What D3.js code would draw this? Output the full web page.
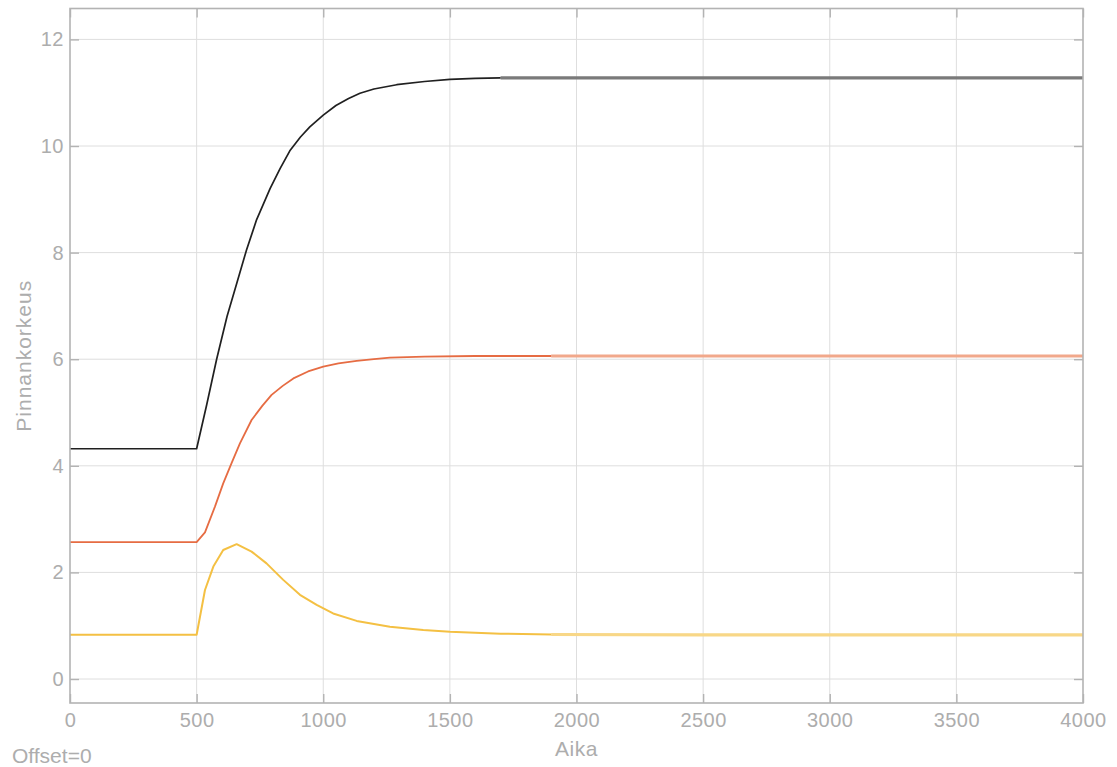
<!DOCTYPE html>
<html>
<head>
<meta charset="utf-8">
<script src="https://cdn.jsdelivr.net/npm/d3@7"></script>
<style>
  html, body { margin: 0; padding: 0; background: #ffffff; }
  svg { display: block; font-family: "Liberation Sans", Arial, sans-serif; }
</style>
</head>
<body>
<svg id="chart" width="1117" height="767"></svg>
<script>
// Time axis (Aika) and tick settings
const xTicks = [0, 500, 1000, 1500, 2000, 2500, 3000, 3500, 4000];
const yTicks = [0, 2, 4, 6, 8, 10, 12];

// Upper tank level
const timeTop = [0, 500, 540, 579, 620, 660, 697, 737, 790, 830, 868, 910, 947, 1000, 1050, 1100, 1145, 1200, 1290, 1400, 1500, 1600, 1700, 1800, 2000, 2500, 3000, 3500, 4000];
const levelTop = [4.32, 4.32, 5.15, 6.0, 6.8, 7.45, 8.05, 8.62, 9.2, 9.58, 9.91, 10.17, 10.36, 10.58, 10.76, 10.89, 10.99, 11.07, 11.15, 11.21, 11.25, 11.27, 11.28, 11.28, 11.28, 11.28, 11.28, 11.28, 11.28];

// Middle tank level
const timeMid = [0, 500, 533, 572, 605, 638, 671, 717, 760, 796, 840, 882, 940, 1000, 1060, 1132, 1200, 1263, 1400, 1600, 1900, 2500, 3000, 3500, 4000];
const levelMid = [2.57, 2.57, 2.75, 3.23, 3.67, 4.05, 4.42, 4.86, 5.13, 5.33, 5.5, 5.64, 5.77, 5.86, 5.92, 5.97, 6.0, 6.03, 6.05, 6.06, 6.06, 6.06, 6.06, 6.06, 6.06];

// Lower tank level
const timeLow = [0, 500, 533, 566, 605, 658, 717, 776, 842, 908, 974, 1039, 1132, 1263, 1395, 1500, 1700, 1900, 2500, 3000, 3500, 4000];
const levelLow = [0.83, 0.83, 1.67, 2.11, 2.42, 2.53, 2.39, 2.17, 1.86, 1.58, 1.39, 1.23, 1.09, 0.98, 0.92, 0.885, 0.85, 0.835, 0.83, 0.83, 0.83, 0.83];

const seriesDefs = [
  { t: timeLow, v: levelLow, color: "#f4c043", tailColor: "#f8d787", tailFrom: 1900, width: 2.0 },
  { t: timeMid, v: levelMid, color: "#e66c43", tailColor: "#f1a88b", tailFrom: 1900, width: 1.8 },
  { t: timeTop, v: levelTop, color: "#202020", tailColor: "#7a7a7a", tailFrom: 1700, width: 1.7 }
];

const svg = d3.select("#chart");
const plotLeft = 70, plotRight = 1083, plotTop = 8.5, plotBottom = 703;

const x = d3.scaleLinear().domain([0, 4000]).range([plotLeft, plotRight]);
const y = d3.scaleLinear().domain([-0.45, 12.58]).range([plotBottom, plotTop]);

const gridColor = "#dedede";
const frameColor = "#b3b3b3";
const textColor = "#adadad";

// Grid lines
const grid = svg.append("g");
grid.selectAll("line.gx").data(xTicks.slice(1, -1)).join("line")
  .attr("class", "gx")
  .attr("x1", d => x(d)).attr("x2", d => x(d))
  .attr("y1", plotTop).attr("y2", plotBottom)
  .attr("stroke", gridColor).attr("stroke-width", 1);
grid.selectAll("line.gy").data(yTicks).join("line")
  .attr("class", "gy")
  .attr("x1", plotLeft).attr("x2", plotRight)
  .attr("y1", d => y(d)).attr("y2", d => y(d))
  .attr("stroke", gridColor).attr("stroke-width", 1);

// Data lines
const lineGen = d3.line().x(d => x(d[0])).y(d => y(d[1]));
seriesDefs.forEach(s => {
  const pts = s.t.map((t, i) => [t, s.v[i]]);
  const head = pts.filter(p => p[0] <= s.tailFrom);
  const tail = pts.filter(p => p[0] >= s.tailFrom);
  svg.append("path").attr("d", lineGen(tail))
    .attr("fill", "none").attr("stroke", s.tailColor).attr("stroke-width", 3.2);
  svg.append("path").attr("d", lineGen(head))
    .attr("fill", "none").attr("stroke", s.color).attr("stroke-width", s.width)
    .attr("stroke-linejoin", "round");
});

// Frame with inward ticks on all sides
const axisBottom = d3.axisBottom(x).tickValues(xTicks).tickSize(-9).tickPadding(10).tickFormat(d3.format("d"));
const axisTop = d3.axisTop(x).tickValues(xTicks).tickSize(-9).tickFormat("");
const axisLeft = d3.axisLeft(y).tickValues(yTicks).tickSize(-9).tickPadding(6).tickFormat(d3.format("d"));
const axisRight = d3.axisRight(y).tickValues(yTicks).tickSize(-9).tickFormat("");

function styleAxis(g) {
  g.select(".domain").remove();
  g.selectAll(".tick line").attr("stroke", frameColor).attr("stroke-width", 1.4);
  g.selectAll(".tick text").attr("fill", textColor).attr("font-size", 20)
    .attr("letter-spacing", 0.5)
    .attr("font-family", "'Liberation Sans', Arial, sans-serif");
}

svg.append("g").attr("transform", `translate(0,${plotBottom})`).call(axisBottom).call(styleAxis);
svg.append("g").attr("transform", `translate(0,${plotTop})`).call(axisTop).call(styleAxis);
svg.append("g").attr("transform", `translate(${plotLeft},0)`).call(axisLeft).call(styleAxis);
svg.append("g").attr("transform", `translate(${plotRight},0)`).call(axisRight).call(styleAxis);
svg.append("rect").attr("x", plotLeft).attr("y", plotTop)
  .attr("width", plotRight - plotLeft).attr("height", plotBottom - plotTop)
  .attr("fill", "none").attr("stroke", frameColor).attr("stroke-width", 1.6);

// Axis titles
svg.append("text").text("Aika")
  .attr("x", (plotLeft + plotRight) / 2).attr("y", 756)
  .attr("text-anchor", "middle").attr("fill", textColor)
  .attr("font-size", 21).attr("letter-spacing", 0.5);
svg.append("text").text("Pinnankorkeus")
  .attr("transform", `translate(31,${(plotTop + plotBottom) / 2}) rotate(-90)`)
  .attr("text-anchor", "middle").attr("fill", textColor)
  .attr("font-size", 21).attr("letter-spacing", 1);
svg.append("text").text("Offset=0")
  .attr("x", 12).attr("y", 763)
  .attr("fill", textColor).attr("font-size", 21);
</script>
</body>
</html>
